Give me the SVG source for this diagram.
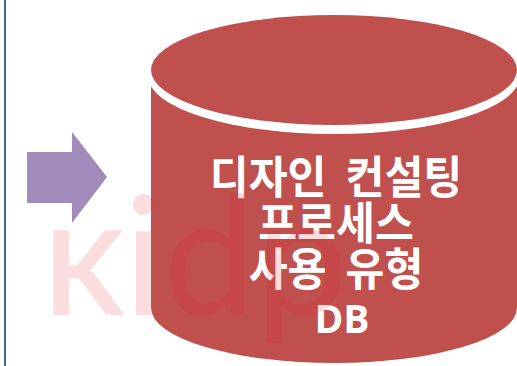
<svg xmlns="http://www.w3.org/2000/svg" width="517" height="366" viewBox="0 0 517 366">
<style>
.red{fill:#c0504d}
.lbl{fill:#ffffff;font-family:"Noto Sans CJK KR","Noto Sans",sans-serif;font-weight:bold;text-anchor:middle}
.wm{fill:#e61428;fill-opacity:0.15;font-family:Lato,"Open Sans",sans-serif}
</style>
<rect width="517" height="366" fill="#ffffff"/>
<rect id="border" x="4" y="0" width="2" height="366" fill="#41679c"/>
<g id="arrow">
<polygon points="27,152 72,152 72,132 107,177 72,223 72,203 27,203" fill="#a08bba"/>
</g>
<g id="connectors"/>
<g id="db">
<path class="red" d="M151,70 V308 A183,55 0 0 0 517,308 V70 Z"/>
<ellipse cx="334" cy="76" rx="186" ry="58" fill="#ffffff"/>
<ellipse class="red" cx="334" cy="70" rx="183" ry="55"/>
<g transform="translate(336 0) scale(0.94 1) translate(-336 0)">
<text class="lbl" x="336" y="194" font-size="45" word-spacing="10">디자인 컨설팅</text>
<text class="lbl" x="336" y="240" font-size="45">프로세스</text>
<text class="lbl" x="336" y="286" font-size="45" word-spacing="10">사용 유형</text>
</g>
<text class="lbl" x="342" y="333" font-size="39" style="font-family:'Open Sans','Noto Sans',sans-serif">DB</text>
</g>
<text class="wm" x="44" y="315" font-size="165"><tspan font-variant="small-caps" font-weight="bold">k</tspan>idp</text>
</svg>
